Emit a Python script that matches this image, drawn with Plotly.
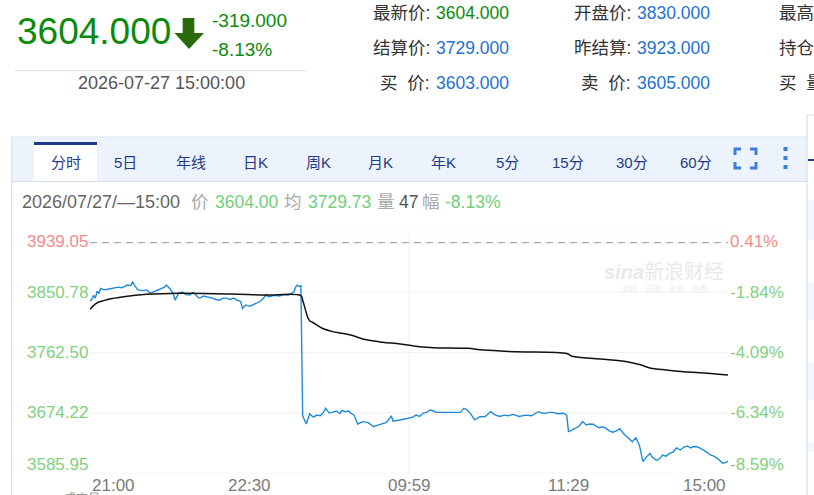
import plotly.graph_objects as go

W, H = 814, 495

# ---------------- data ----------------
prev_settle = 3923.0
y_ticks = [3939.05, 3850.78, 3762.50, 3674.22, 3585.95]
x_tick_min = [0, 90, 180, 270, 360]
x_tick_text = ["21:00", "22:30", "09:59", "11:29", "15:00"]

price_min = [0, 1, 2, 3, 4, 5, 6, 8, 10, 13, 16, 18, 21, 23, 24, 25, 26, 27, 30, 32,
             34, 36, 38, 40, 42, 43, 45, 47, 48, 50, 52, 54, 56, 58, 59, 61, 62, 64, 66, 68,
             69, 71, 73, 75, 77, 79, 81, 83, 85, 86, 88, 90, 92, 94, 96, 98, 99, 101, 102, 104,
             107, 109, 112, 114, 115, 116, 117, 118, 119,
             120, 121, 122, 124, 126, 128, 130, 132, 133, 135, 137, 139, 141, 142, 144, 146, 147, 149,
             151, 154, 157, 160, 162, 165, 167, 169, 170, 171, 174, 177, 179, 182, 184, 186, 188, 190,
             192, 194, 195, 200, 205, 209, 211, 213, 215, 217, 220, 223, 226, 228, 231, 234, 236, 239,
             242, 246, 249, 253, 255, 257, 259, 261, 264, 267, 269, 270, 272, 274, 276, 278, 280, 282,
             284, 286, 287, 289, 291, 293, 295, 297, 299, 301, 303, 305, 306, 308, 310, 312, 314, 316,
             317, 319, 320, 322, 323, 325, 327, 329, 331, 333, 335, 337, 339, 340, 342, 344, 346, 348,
             350, 352, 354, 356, 357, 359, 360]
price = [3838, 3840, 3846, 3842, 3852, 3849, 3856, 3854, 3855, 3856, 3858, 3857, 3861, 3860, 3866, 3861, 3858, 3854, 3853, 3854,
         3849, 3851, 3853, 3856, 3858, 3861, 3856, 3848, 3839, 3849, 3851, 3847, 3846.5, 3850, 3849, 3843, 3842, 3845, 3844, 3843,
         3842, 3840, 3839, 3842, 3842, 3840, 3842, 3839, 3837, 3827, 3832, 3830, 3832, 3834, 3837, 3842, 3846.5, 3844, 3845, 3846,
         3845, 3847, 3846.5, 3849, 3851, 3858, 3861, 3859, 3860,
         3670, 3664, 3658, 3673, 3668, 3671, 3670, 3676, 3681, 3674, 3676, 3677, 3673, 3678, 3676, 3677, 3674, 3671,
         3658, 3661.5, 3660, 3654, 3656, 3659, 3660, 3666, 3670, 3662, 3664, 3665, 3666, 3668, 3671, 3669, 3674, 3675,
         3678.5, 3677, 3675, 3675, 3675, 3675, 3681, 3678.5, 3672, 3664, 3668.7, 3669, 3676, 3672, 3669, 3671, 3670, 3672,
         3669, 3671, 3670, 3676, 3674, 3673.6, 3675, 3675, 3673, 3673.6, 3671, 3647, 3649, 3652, 3655, 3661.5, 3656.6, 3658,
         3657.6, 3654, 3652.6, 3654, 3652, 3648, 3646, 3648, 3651, 3644, 3639.5, 3635, 3632, 3638, 3627, 3603, 3610, 3615,
         3610, 3606, 3605, 3609, 3612.7, 3611, 3615, 3617, 3623, 3620, 3624, 3626, 3623, 3624.7, 3625, 3623, 3620, 3617,
         3612.7, 3611, 3607.9, 3603, 3600.6, 3602, 3604]

avg_min = [0, 2, 4, 6, 10, 19, 32, 51, 79, 98, 119, 120, 123, 124, 126, 131, 137, 141, 147, 156, 165, 175,
           186, 194, 213, 222, 241, 269, 272, 288, 303, 310, 316, 325, 335, 344, 360]
avg_price = [3825.6, 3831, 3835, 3837, 3840, 3844, 3847.5, 3849, 3848, 3846.5, 3845.5, 3839, 3813, 3809, 3806, 3798,
             3793, 3791, 3788, 3781, 3777.5, 3775, 3771, 3769.5, 3768.6, 3766, 3763.6, 3761, 3757, 3753, 3749, 3745,
             3740, 3737, 3734.5, 3733, 3729.7]

tabs = ["分时", "5日", "年线", "日K", "周K", "月K", "年K", "5分", "15分", "30分", "60分"]
quote_labels = [["最新价:", "结算价:", "买\u00a0\u00a0价:"],
                ["开盘价:", "昨结算:", "卖\u00a0\u00a0价:"],
                ["最高价:", "持仓量:", "买\u00a0\u00a0量:"]]
quote_values = [["3604.000", "3729.000", "3603.000"],
                ["3830.000", "3923.000", "3605.000"],
                ["", "", ""]]

info_items = ["2026/07/27/\u201415:00", "价", "3604.00", "均", "3729.73", "量", "47", "幅", "-8.13%"]
info_colors = ["#666666", "#aaaaaa", "#6fcf7a", "#aaaaaa", "#6fcf7a", "#aaaaaa", "#555555", "#aaaaaa", "#6fcf7a"]

# ---------------- helpers ----------------
FONT = "Arial, 'Liberation Sans', 'Noto Sans CJK SC', sans-serif"
GREEN_DARK = "#0b8a0b"
BLUE_VAL = "#2272d2"
LGREEN = "#7fd17f"
LRED = "#f48b8b"


def PX(x):
    return x / W


def PY(y):
    return 1 - y / H


annotations = []
shapes = []


def ann(text, x, y, size, color, xanchor="left", yanchor="middle", family=FONT, **kw):
    annotations.append(dict(text=text, x=PX(x), y=PY(y), xref="paper", yref="paper",
                            xanchor=xanchor, yanchor=yanchor, showarrow=False,
                            font=dict(size=size, color=color, family=family), **kw))


def rect(x0, y0, x1, y1, fill, line=None, lw=0):
    shapes.append(dict(type="rect", xref="paper", yref="paper", x0=PX(x0), x1=PX(x1),
                       y0=PY(y1), y1=PY(y0), fillcolor=fill,
                       line=dict(width=lw, color=line or fill), layer="below"))


def path(pts, fill=None, color=None, lw=0, closed=True, layer="above"):
    d = "M " + " L ".join(f"{PX(x):.5f},{PY(y):.5f}" for x, y in pts)
    if closed:
        d += " Z"
    shapes.append(dict(type="path", xref="paper", yref="paper", path=d,
                       fillcolor=fill if fill else "rgba(0,0,0,0)",
                       line=dict(width=lw, color=color or "rgba(0,0,0,0)"), layer=layer))


# ---------------- chart geometry ----------------
PL, PR, PT, PB = 90, 728, 231.7, 473.3

fig = go.Figure()
fig.add_trace(go.Scatter(x=price_min, y=price, mode="lines",
                         line=dict(color="#1f8ad8", width=1.4), hoverinfo="skip"))
fig.add_trace(go.Scatter(x=avg_min, y=avg_price, mode="lines", line_shape="spline",
                         line=dict(color="#111111", width=1.5), hoverinfo="skip"))

# ---------------- header ----------------
ann("3604.000", 15, 32, 37, GREEN_DARK)
path([(182.7, 18), (194.3, 18), (194.3, 33), (204, 33), (189, 49), (174.5, 33), (182.7, 33)],
     fill="#2a6a0a")
ann("-319.000", 210, 20, 19, GREEN_DARK)
ann("-8.13%", 210, 50, 19, GREEN_DARK)
shapes.append(dict(type="line", xref="paper", yref="paper", x0=PX(15), x1=PX(307),
                   y0=PY(70.7), y1=PY(70.7), line=dict(color="#d9e0e8", width=1)))
ann("2026-07-27 15:00:00", 161, 83, 18, "#555555", xanchor="center")

col_x = [432, 633, 777]
row_y = [13.3, 48.3, 83.3]
for c in range(3):
    for r in range(3):
        if c < 2:
            ann(quote_labels[c][r], col_x[c], row_y[r], 17.5, "#333333", xanchor="right")
            vcol = GREEN_DARK if (c == 0 and r == 0) else BLUE_VAL
            ann(quote_values[c][r], col_x[c] + 2, row_y[r], 17.5, vcol)
        else:
            ann(quote_labels[c][r], col_x[c], row_y[r], 17.5, "#333333")

# ---------------- panel / tab bar ----------------
rect(12, 137, 807, 181, "#edf3fc")
shapes.append(dict(type="line", xref="paper", yref="paper", x0=PX(12), x1=PX(807),
                   y0=PY(137), y1=PY(137), line=dict(color="#dbe5f1", width=1)))
shapes.append(dict(type="line", xref="paper", yref="paper", x0=PX(12), x1=PX(807),
                   y0=PY(181.5), y1=PY(181.5), line=dict(color="#d3dfee", width=1)))
shapes.append(dict(type="line", xref="paper", yref="paper", x0=PX(11.7), x1=PX(11.7),
                   y0=PY(137), y1=PY(495), line=dict(color="#cfdbea", width=1)))
shapes.append(dict(type="line", xref="paper", yref="paper", x0=PX(807), x1=PX(807),
                   y0=PY(115), y1=PY(495), line=dict(color="#cfdbea", width=1)))
shapes.append(dict(type="line", xref="paper", yref="paper", x0=PX(807), x1=PX(814),
                   y0=PY(115), y1=PY(115), line=dict(color="#cfdbea", width=1)))
for y0, y1 in [(200, 240), (282, 320), (362, 400), (442, 452)]:
    rect(808, y0, 814, y1, "#f3f6fa")
rect(808, 159, 814, 161, "#1c3b8c")

rect(34, 143, 97, 181.5, "#ffffff")
rect(34, 142, 97, 145, "#1c3b8c")
tab_cx = [65.5, 125, 191, 255, 318, 380, 444, 507, 568, 632, 696]
for t, cx in zip(tabs, tab_cx):
    ann(t, cx, 162, 15, "#1f3a86", xanchor="center")

# fullscreen icon
IC = "#3d7fd8"
fx0, fx1, fy0, fy1, L = 735, 756, 149, 168, 6
for pts in [[(fx0, fy0 + L), (fx0, fy0), (fx0 + L, fy0)],
            [(fx1 - L, fy0), (fx1, fy0), (fx1, fy0 + L)],
            [(fx0, fy1 - L), (fx0, fy1), (fx0 + L, fy1)],
            [(fx1 - L, fy1), (fx1, fy1), (fx1, fy1 - L)]]:
    path(pts, color=IC, lw=3, closed=False)
for yy in [147, 156, 165]:
    rect(783.5, yy, 787.5, yy + 4, IC)

# info row (each item placed separately)
info_x = [20, 189, 213, 282, 306, 375, 397, 420, 443]
for txt, col, xx in zip(info_items, info_colors, info_x):
    ann(txt, xx, 202, 18 if xx == 20 else 17.5, col)

# watermark
ann("<b><i>sina</i></b>新浪财经", 602, 272, 20, "#e9e9e9")
ann("实时 · 迅速 · 全面 · 免费", 620, 289, 8, "#ececec")

# ---------------- axes labels ----------------
for i, v in enumerate(y_ticks):
    shift = -9.5 if i == 0 else (9 if i == len(y_ticks) - 1 else 0)
    col = LRED if v > prev_settle else LGREEN
    pct = (v / prev_settle - 1) * 100
    annotations.append(dict(text=f"{v:.2f}", x=PX(PL), y=v, xref="paper", yref="y",
                            xanchor="right", yanchor="middle", yshift=shift, showarrow=False,
                            font=dict(size=17, color=col, family=FONT)))
    annotations.append(dict(text=f"{pct:.2f}%", x=PX(PR), y=v, xref="paper", yref="y",
                            xanchor="left", yanchor="middle", yshift=shift, showarrow=False,
                            font=dict(size=17, color=col, family=FONT)))

for i, (m, t) in enumerate(zip(x_tick_min, x_tick_text)):
    xa = "left" if i == 0 else ("right" if i == len(x_tick_min) - 1 else "center")
    annotations.append(dict(text=t, x=m, y=PY(485), xref="x", yref="paper",
                            xanchor=xa, yanchor="middle", showarrow=False,
                            font=dict(size=17, color="#7a7a7a", family=FONT)))

ann("成交量", 62, 489, 12, "#999999", yanchor="top")

# grid lines
for v in y_ticks:
    shapes.append(dict(type="line", xref="x domain", yref="y", x0=0, x1=1, y0=v, y1=v,
                       line=dict(color="#f1f1f1", width=1), layer="below"))
shapes.append(dict(type="line", xref="x", yref="y domain", x0=180, x1=180, y0=0, y1=1,
                   line=dict(color="#f1f1f1", width=1), layer="below"))
shapes.append(dict(type="line", xref="x domain", yref="y", x0=0, x1=1, y0=prev_settle, y1=prev_settle,
                   line=dict(color="#9a9a9a", width=1, dash="7px,5px"), layer="below"))

fig.update_layout(
    width=W, height=H, autosize=False,
    margin=dict(l=0, r=0, t=0, b=0, pad=0),
    paper_bgcolor="#ffffff", plot_bgcolor="rgba(0,0,0,0)",
    showlegend=False,
    xaxis=dict(domain=[PX(PL), PX(PR)], range=[0, 360], showgrid=False, zeroline=False,
               showticklabels=False, ticks="", fixedrange=True),
    yaxis=dict(domain=[PY(PB), PY(PT)], range=[y_ticks[-1], y_ticks[0]], showgrid=False,
               zeroline=False, showticklabels=False, ticks="", fixedrange=True),
    annotations=annotations, shapes=shapes,
)

fig.write_html("out.html", config={"displayModeBar": False})
